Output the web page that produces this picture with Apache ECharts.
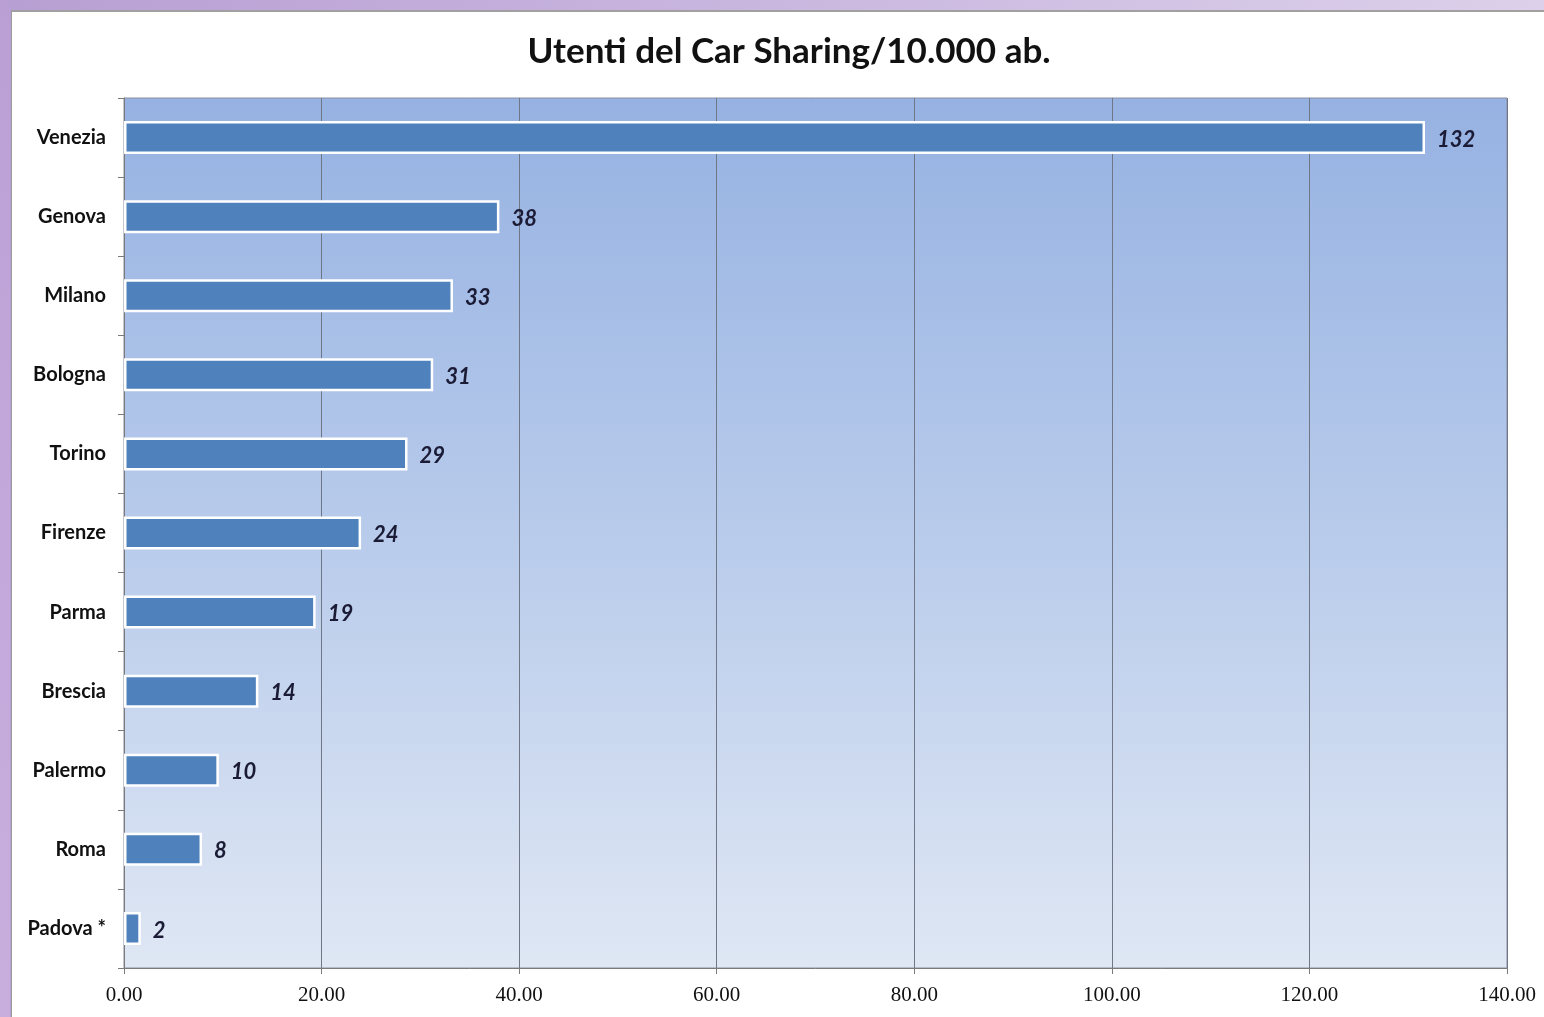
<!DOCTYPE html>
<html><head><meta charset="utf-8">
<script src="https://cdn.jsdelivr.net/npm/echarts@6/dist/echarts.min.js"></script>
<style>
html,body{margin:0;padding:0;width:1544px;height:1017px;overflow:hidden;}
body{background:linear-gradient(90deg,#b89fd3 0%,#c6b2dd 40%,#dcd0ea 100%);}
#frame{position:absolute;left:0;top:0;width:10px;height:1017px;background:linear-gradient(180deg,#b99fd4,#c4aadc 60%,#c7aedd);}
#panel{position:absolute;left:11px;top:10px;width:1533px;height:1007px;background:#fff;border-left:1px solid #9a9a9a;border-top:2px solid #a0a0a0;box-sizing:border-box;}
#chart{position:absolute;left:0;top:0;width:1544px;height:1017px;}
</style></head>
<body>
<div id="frame"></div>
<div id="panel"></div>
<div id="chart"></div>
<script>
const categories = ['Venezia','Genova','Milano','Bologna','Torino','Firenze','Parma','Brescia','Palermo','Roma','Padova *'];
const values = [131.7, 38.0, 33.3, 31.3, 28.7, 24.0, 19.4, 13.6, 9.6, 7.9, 1.7];
const xTicks = [0, 20, 40, 60, 80, 100, 120, 140];
const titleText = 'Utenti del Car Sharing/10.000 ab.';

const chart = echarts.init(document.getElementById('chart'), null, {renderer:'canvas'});
chart.setOption({
  backgroundColor: 'transparent',
  animation: false,
  title: {
    text: titleText, left: 784, top: 29, textAlign: 'center',
    textStyle: {fontFamily: 'Lato, "Open Sans", sans-serif', fontWeight: 'bold', fontSize: 35, color: '#111'}
  },
  grid: {
    left: 124, top: 98, right: 37, bottom: 49, show: true,
    borderColor: '#8a8fa0', borderWidth: 1,
    backgroundColor: new echarts.graphic.LinearGradient(0, 0, 0, 1, [
      {offset: 0, color: '#96b2e2'},
      {offset: 0.5, color: '#b8cbeb'},
      {offset: 1, color: '#dfe7f4'}
    ])
  },
  xAxis: {
    type: 'value', min: xTicks[0], max: xTicks[xTicks.length-1], interval: 20,
    axisLine: {show: true, lineStyle: {color: '#7a7a7a'}},
    axisTick: {show: true, length: 6, lineStyle: {color: '#7a7a7a'}},
    splitLine: {show: true, lineStyle: {color: '#6f7686', width: 1}},
    axisLabel: {
      formatter: v => v.toFixed(2), margin: 17,
      fontFamily: '"Liberation Serif", "DejaVu Serif", serif', fontSize: 21, color: '#111'
    }
  },
  yAxis: {
    type: 'category', data: categories, inverse: true,
    axisLine: {show: true, lineStyle: {color: '#7a7a7a'}},
    axisTick: {show: true, length: 6, lineStyle: {color: '#7a7a7a'}},
    axisLabel: {
      margin: 18, fontFamily: 'Lato, "Open Sans", sans-serif', fontWeight: 'bold', fontSize: 20, color: '#111'
    }
  },
  series: [{
    type: 'bar', data: values, barWidth: 33,
    itemStyle: {color: '#4f81bd', borderColor: '#ffffff', borderWidth: 2.5},
    label: {
      show: true, position: 'right', distance: 12, offset: [0, 2],
      formatter: p => Math.round(p.value),
      fontFamily: 'Lato, "Open Sans", sans-serif', fontStyle: 'italic', fontWeight: 'bold',
      fontSize: 22, color: '#1b1b36'
    }
  }]
});
</script>
</body></html>
